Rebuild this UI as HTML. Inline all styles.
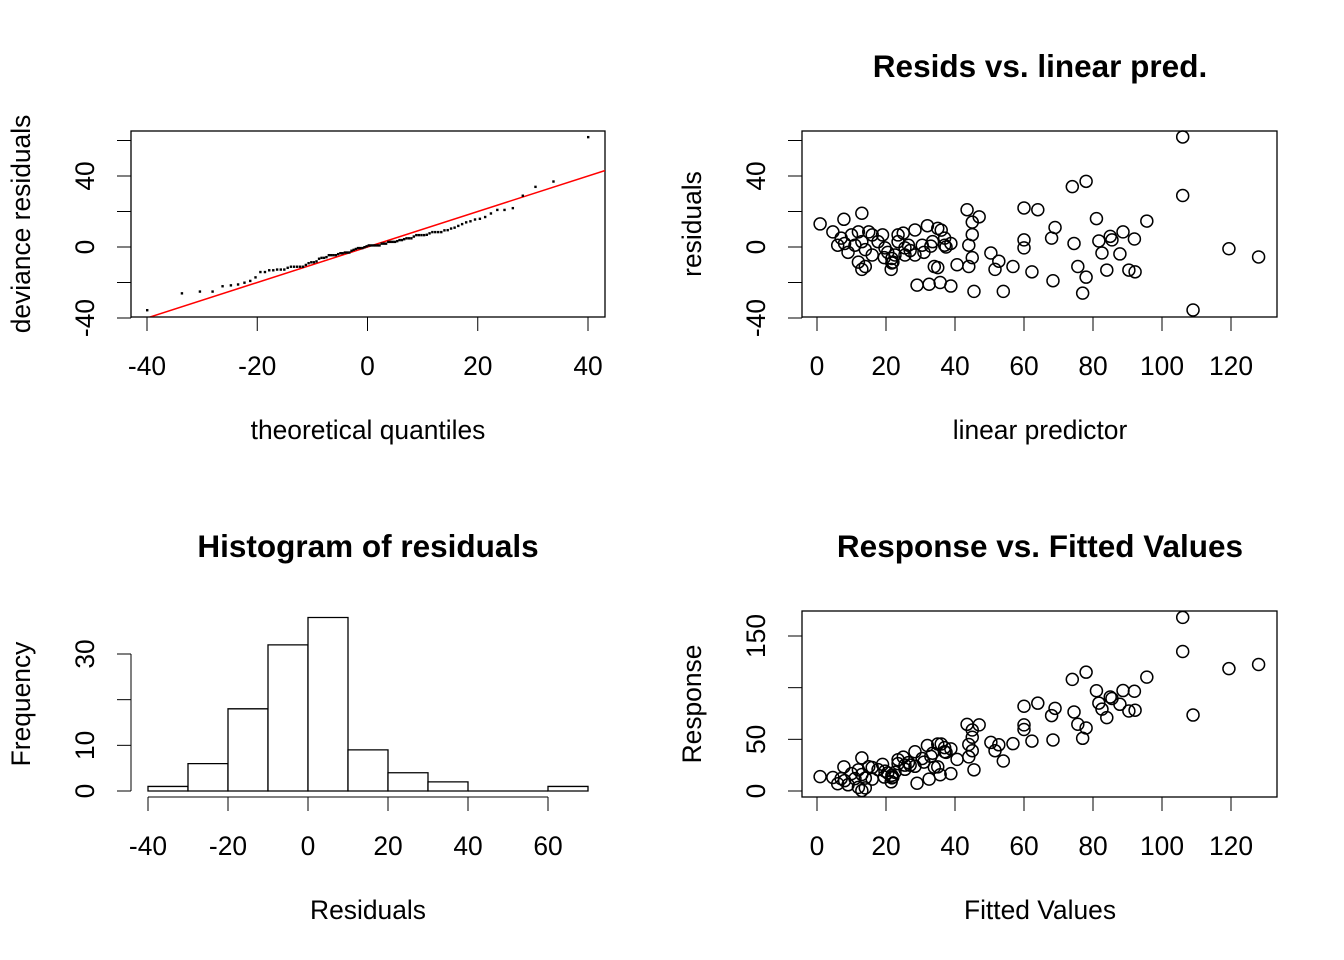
<!DOCTYPE html>
<html><head><meta charset="utf-8">
<style>
html,body{margin:0;padding:0;background:#fff;}
svg{display:block;font-family:"Liberation Sans",Arial,sans-serif;}
</style></head>
<body>
<svg id="chart" width="1344" height="960" viewBox="0 0 1344 960" xmlns="http://www.w3.org/2000/svg"></svg>
<script>
// linear predictor values and residuals (paired)
const predVals = [106,106,74,78,43.5,47,45,45,44,45,44,45.5,60,64,60,60,69,68,74.5,75.6,78,77,68.4,62.3,56.8,54,50.4,52.7,51.6,40.6,38.8,35.7,38.8,37.4,81,81.7,85,85.5,82.6,88.7,92,87.8,84,90.4,92.2,95.6,119.4,128,109,
0.9,13,7.8,4.6,29,32.5,14,13,21.5,21.7,34,35,28.4,32,35,36,23.5,25,17.7,19.7,25.5,28.4,30.5,33.5,37,22.6,20.5,21.7,16,9,6,7,10,12,15,16,11,13,8,14,26.5,23.5,19,37,31,25.5,19.5,12,22,33,27];
const residVals = [62,29,34,37,21,17,14,7,1,-6,-11,-25,22,21,4,-0.5,11,5,2,-11,-17,-26,-19,-14,-11,-25,-3.4,-8,-12.6,-10,-22,-20,2,0,16,3.4,6,4,-3.4,8.5,4.5,-3.9,-13,-13,-14,14.6,-1,-5.6,-35.5,
13,19,15.6,8.5,-21.5,-21,-11,-12.6,-12.6,-9,-11,-11.6,9.6,12,10.5,9.5,6.8,7.8,3,-0.5,-0.5,-4.5,1,3,1,-4.5,-3,-6.5,-4.5,-3,1,5,6.8,8.5,8.5,6.8,1,3,2,-1.5,1,3,6.8,5,-3,-4.5,-6,-8.5,-8.5,0.5,-2];
// histogram of residuals
const histBreaks = [-40,-30,-20,-10,0,10,20,30,40,50,60,70];
const histCounts = [1,6,18,32,38,9,4,2,0,0,1];
// tick labels
const qqXTicks = [-40,-20,0,20,40];
const resYTicks = [-40,-20,0,20,40,60];
const resYLabels = [-40,0,40];
const predXTicks = [0,20,40,60,80,100,120];
const histXTicks = [-40,-20,0,20,40,60];
const histYTicks = [0,10,20,30];
const histYLabels = [0,10,30];
const respYTicks = [0,50,100,150];
const respYLabels = [0,50,150];

const NS="http://www.w3.org/2000/svg";
const svg=document.getElementById('chart');
const FS=26.4, TFS=31.5;
function mk(tag,attrs,parent){const e=document.createElementNS(NS,tag);for(const k in attrs)e.setAttribute(k,attrs[k]);(parent||svg).appendChild(e);return e;}
function txt(s,x,y,size,opts,parent){const t=mk('text',Object.assign({x:x,y:y,'font-size':size,'text-anchor':'middle',fill:'#000'},opts||{}),parent);t.textContent=s;return t;}

function scale(d0,d1,p0,p1){return v=>p0+(v-d0)*(p1-p0)/(d1-d0);}

// ---------- Panel 1: QQ plot ----------
const g1=mk('g',{});


const qx=scale(-40,40,147,588), qy=scale(0,40,247,176);
const b1=mk('rect',{x:131,y:131,width:474,height:186,fill:'none',stroke:'#000','stroke-width':1.3},g1);


function qnorm(p){const a=[-39.69683028665376,220.9460984245205,-275.9285104469687,138.357751867269,-30.66479806614716,2.506628277459239],b=[-54.47609879822406,161.5858368580409,-155.6989798598866,66.80131188771972,-13.28068155288572],c=[-0.007784894002430293,-0.3223964580411365,-2.400758277161838,-2.549732539343734,4.374664141464968,2.938163982698783],d=[0.007784695709041462,0.3224671290700398,2.445134137142996,3.754408661907416];let q,r;if(p<0.02425){q=Math.sqrt(-2*Math.log(p));return(((((c[0]*q+c[1])*q+c[2])*q+c[3])*q+c[4])*q+c[5])/((((d[0]*q+d[1])*q+d[2])*q+d[3])*q+1);}if(p>1-0.02425){q=Math.sqrt(-2*Math.log(1-p));return-(((((c[0]*q+c[1])*q+c[2])*q+c[3])*q+c[4])*q+c[5])/((((d[0]*q+d[1])*q+d[2])*q+d[3])*q+1);}q=p-0.5;r=q*q;return(((((a[0]*r+a[1])*r+a[2])*r+a[3])*r+a[4])*r+a[5])*q/(((((b[0]*r+b[1])*r+b[2])*r+b[3])*r+b[4])*r+1);}
const sorted=residVals.slice().sort((a,b)=>a-b);
const n=sorted.length;
const qs=sorted.map((_,i)=>qnorm((i+0.5)/n));
const qmax=qs[n-1];
const qsd=40/qmax;
const clip=mk('clipPath',{id:'c1'},g1);mk('rect',{x:131,y:131,width:474,height:186},clip);
const rl=mk('line',{x1:qx(-60),y1:qy(-60),x2:qx(60),y2:qy(60),stroke:'#ff0000','stroke-width':1.5,'clip-path':'url(#c1)'},g1);


sorted.forEach((r,i)=>{
  const p=mk('rect',{x:qx(qs[i]*qsd)-1,y:qy(r)-1,width:2.4,height:2.4,fill:'#000'},g1);
  
  
});
mk('line',{x1:qx(-40),y1:317,x2:qx(40),y2:317,stroke:'#000'},g1);
qqXTicks.forEach(v=>{mk('line',{x1:qx(v),y1:317,x2:qx(v),y2:331,stroke:'#000'},g1);
  const t=txt(v,qx(v),375,FS,{},g1);});
function yAxis(g,ys,ticks,labels,x0){mk('line',{x1:x0,y1:ys(ticks[0]),x2:x0,y2:ys(ticks[ticks.length-1]),stroke:'#000'},g);
  ticks.forEach(v=>mk('line',{x1:x0-14,y1:ys(v),x2:x0,y2:ys(v),stroke:'#000'},g));
  labels.forEach(v=>{const t=txt(v,0,0,FS,{transform:`translate(${x0-37},${ys(v)}) rotate(-90)`},g);});}
yAxis(g1,qy,resYTicks,resYLabels,131);
let t;
t=txt('theoretical quantiles',368,439,FS,{},g1);
t=txt('deviance residuals',0,0,FS,{transform:'translate(30,224) rotate(-90)'},g1);

// ---------- Panel 2: resids vs linear pred ----------
const g2=mk('g',{});


const px=scale(0,120,817,1231), ry=qy;
mk('rect',{x:802,y:131,width:475,height:186,fill:'none',stroke:'#000','stroke-width':1.3},g2);
predVals.forEach((p,i)=>{const c=mk('circle',{cx:px(p),cy:ry(residVals[i]),r:6,fill:'none',stroke:'#000','stroke-width':1.5},g2);
  });
function xAxis(g,xs,ticks,y0){mk('line',{x1:xs(ticks[0]),y1:y0,x2:xs(ticks[ticks.length-1]),y2:y0,stroke:'#000'},g);
  ticks.forEach(v=>{mk('line',{x1:xs(v),y1:y0,x2:xs(v),y2:y0+14,stroke:'#000'},g);
  const t=txt(v,xs(v),y0+58,FS,{},g);});}
xAxis(g2,px,predXTicks,317);
yAxis(g2,ry,resYTicks,resYLabels,802);
t=txt('Resids vs. linear pred.',1040,77,TFS,{'font-weight':'bold'},g2);
t=txt('linear predictor',1040,439,FS,{},g2);
t=txt('residuals',0,0,FS,{transform:'translate(701,224) rotate(-90)'},g2);

// ---------- Panel 3: histogram ----------
const g3=mk('g',{});


const hx=scale(-40,60,148,548), hy=scale(0,30,791,654);
histCounts.forEach((c,i)=>{
  const x0=hx(histBreaks[i]),x1=hx(histBreaks[i+1]);
  const y0=hy(0),y1=hy(c);
  const r=mk('path',{d:`M${x0},${y0} L${x0},${y1} L${x1},${y1} L${x1},${y0} Z`,fill:'#fff',stroke:'#000','stroke-width':1.3},g3);
  
});
xAxis(g3,hx,histXTicks,797);
yAxis(g3,hy,histYTicks,histYLabels,131);
t=txt('Histogram of residuals',368,557,TFS,{'font-weight':'bold'},g3);
t=txt('Residuals',368,919,FS,{},g3);
t=txt('Frequency',0,0,FS,{transform:'translate(30,704) rotate(-90)'},g3);

// ---------- Panel 4: response vs fitted ----------
const g4=mk('g',{});


const fy=scale(0,150,791,636);
mk('rect',{x:802,y:611,width:475,height:186,fill:'none',stroke:'#000','stroke-width':1.3},g4);
predVals.forEach((p,i)=>{const c=mk('circle',{cx:px(p),cy:fy(p+residVals[i]),r:6,fill:'none',stroke:'#000','stroke-width':1.5},g4);
  });
xAxis(g4,px,predXTicks,797);
yAxis(g4,fy,respYTicks,respYLabels,802);
t=txt('Response vs. Fitted Values',1040,557,TFS,{'font-weight':'bold'},g4);
t=txt('Fitted Values',1040,919,FS,{},g4);
t=txt('Response',0,0,FS,{transform:'translate(701,704) rotate(-90)'},g4);
</script>
</body></html>
